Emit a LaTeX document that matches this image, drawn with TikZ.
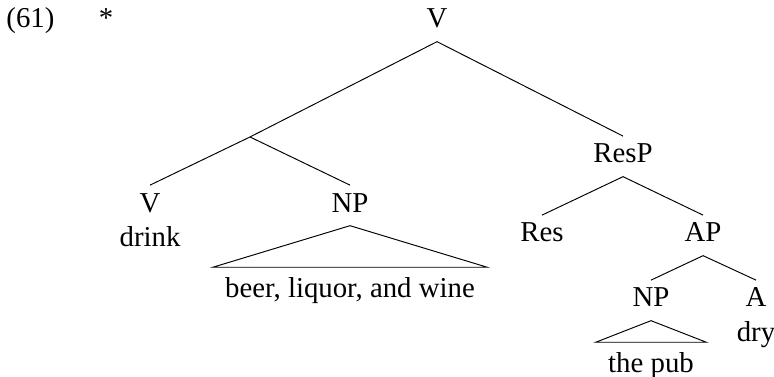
\documentclass[tikz,border=0pt]{standalone}
\usepackage{fontspec}
\setmainfont{Liberation Serif}
\usetikzlibrary{positioning,calc}

\begin{document}
\begin{tikzpicture}[
    every node/.style={font=\fontsize{12pt}{14.5pt}\selectfont},
    cat/.style={anchor=base, text height=8pt, text depth=2.5pt, inner sep=3pt},
    word/.style={anchor=base, inner sep=0pt},
    phrase/.style={anchor=base, text height=8.2pt, inner xsep=5pt, inner ysep=4pt}
]
\useasboundingbox (0,0) rectangle (11.335,-5.507);

% Example number and star
\node[word, anchor=base west] (num) at (0.088,-0.410) {(61)};
\node[word] (star) at (1.552,-0.410) {*};

% Root
\node[cat] (root) at (6.400,-0.410) {V};
\coordinate (vbar) at (3.661,-2.006);
\node[cat] (resp) at (9.124,-2.387) {ResP};
\draw (root.south) -- (vbar);
\draw (root.south) -- (resp.north);

% Left: V + NP
\node[cat] (verb) at (2.197,-3.105) {V};
\node[word] (drink) at ([yshift=-14.5pt]verb.base) {drink};
\node[cat] (obj) at (5.126,-3.105) {NP};
\draw (vbar) -- (verb.north);
\draw (vbar) -- (obj.north);
\node[phrase] (objtext) at (5.126,-4.350) {beer, liquor, and wine};
\draw (obj.south) -- (objtext.north west) -- (objtext.north east) -- cycle;

% Right: ResP
\node[cat] (res) at (7.938,-3.544) {Res};
\node[cat] (ap) at (10.296,-3.544) {AP};
\draw (resp.south) -- (res.north);
\draw (resp.south) -- (ap.north);

% AP
\node[cat] (np) at (9.534,-4.496) {NP};
\node[cat] (adj) at (11.072,-4.496) {A};
\node[word] (dry) at ([yshift=-14.5pt]adj.base) {dry};
\draw (ap.south) -- (np.north);
\draw (ap.south) -- (adj.north);
\node[phrase] (nptext) at (9.534,-5.448) {the pub};
\draw (np.south) -- (nptext.north west) -- (nptext.north east) -- cycle;

\end{tikzpicture}
\end{document}
